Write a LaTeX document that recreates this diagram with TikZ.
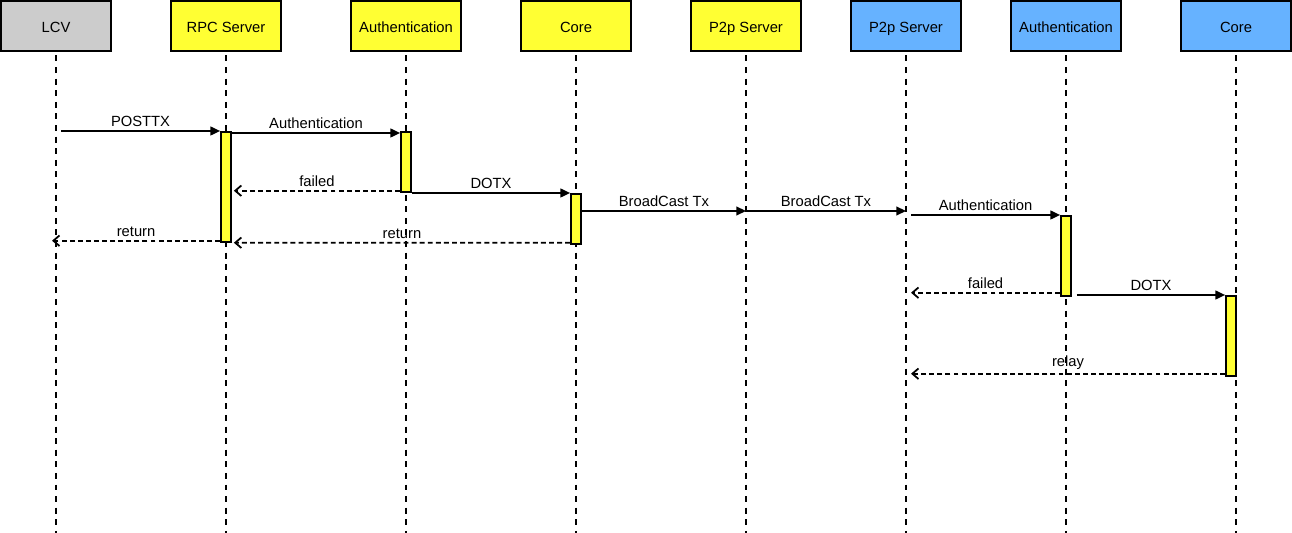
\documentclass[tikz,border=0pt]{standalone}
\usepackage{fontspec}
\setmainfont{Liberation Sans}
\usepackage{tikz}
\usetikzlibrary{arrows.meta,positioning,calc}
\definecolor{LCVGray}{RGB}{204,204,204}
\definecolor{NodeYellow}{RGB}{255,255,51}
\definecolor{NodeBlue}{RGB}{102,178,255}

\begin{document}
\begin{tikzpicture}[x=0.02cm,y=-0.02cm,
  head/.style={draw,line width=1.1pt,minimum width=2.2cm,minimum height=1cm,
               inner sep=0pt,text height=7.2pt,text depth=0pt,
               font=\fontsize{8.4}{10}\selectfont},
  life/.style={line width=1.2pt,dash pattern=on 3.4pt off 3.2pt},
  bar/.style={draw,fill=NodeYellow,line width=1pt,minimum width=0.2cm,
              inner sep=0pt,anchor=north},
  call/.style={line width=0.9pt,-{Triangle[length=5.5pt,width=5pt]}},
  reply/.style={line width=1pt,dash pattern=on 2.8pt off 1.8pt,
                -{Straight Barb[length=3.5pt,width=6pt]}},
  lbl/.style={above,inner sep=1.8pt,font=\fontsize{8.4}{10}\selectfont},
]
\useasboundingbox (0,0) rectangle (1292,533);
\coordinate (bottom) at (0,533);
% Participants
\foreach \x/\name/\txt/\col in {56/lcv/LCV/LCVGray,226/rpc/RPC Server/NodeYellow,
    406/auth/Authentication/NodeYellow,576/core/Core/NodeYellow,
    746/p2pa/P2p Server/NodeYellow,906/p2pb/P2p Server/NodeBlue,
    1066/authb/Authentication/NodeBlue,1236/coreb/Core/NodeBlue}
  \node[head,fill=\col] (\name) at (\x,26) {\txt};
% Lifelines
\foreach \name in {lcv,rpc,auth,core,p2pa,p2pb,authb,coreb}
  \draw[life] ([yshift=-2pt]\name.south) -- (\name.south |- bottom);
% Activation bars
\node[bar,minimum height=2.2cm] (rpcbar) at (226,131) {};
\node[bar,minimum height=1.2cm] (authbar) at (406,131) {};
\node[bar,minimum height=1cm] (corebar) at (576,193) {};
\node[bar,minimum height=1.6cm] (authbbar) at (1066,215) {};
\node[bar,minimum height=1.6cm] (corebbar) at (1231,295) {};
% Node side: POSTTX
\draw[call] ($(lcv.south |- rpcbar.north)+(5,0)$) -- (rpcbar.north west)
  node[lbl,midway]{POSTTX};
\draw[call] ($(rpcbar.north east)+(0,2)$) -- ($(authbar.north west)+(0,2)$)
  node[lbl,midway]{Authentication};
\draw[reply] ($(authbar.south west)+(0,-2)$) -- ($(rpcbar.east |- authbar.south)+(2,-2)$)
  node[lbl,midway]{failed};
\draw[call] (authbar.south east |- corebar.north) -- (corebar.north west)
  node[lbl,midway]{DOTX};
\draw[reply] ($(rpcbar.south west)+(0,-2)$) -- ($(lcv.south |- rpcbar.south)+(-4,-2)$)
  node[lbl,midway]{return};
\draw[reply] ($(corebar.south west)+(0,-2)$) -- ($(rpcbar.south east)+(2,0)$)
  node[lbl,midway]{return};
% Broadcast to peer
\draw[call] ($(corebar.north east)+(0,18)$) -- ($(p2pa.south |- corebar.north)+(0,18)$)
  node[lbl,midway]{BroadCast Tx};
\draw[call] ($(p2pa.south |- corebar.north)+(0,18)$) -- ($(p2pb.south |- corebar.north)+(0,18)$)
  node[lbl,midway]{BroadCast Tx};
% Peer side
\draw[call] ($(p2pb.south |- authbbar.north)+(5,0)$) -- (authbbar.north west)
  node[lbl,midway]{Authentication};
\draw[reply] ($(authbbar.south west)+(0,-4)$) -- ($(p2pb.south |- authbbar.south)+(5,-4)$)
  node[lbl,midway]{failed};
\draw[call] ($(authbbar.south east |- corebbar.north)+(5,0)$) -- (corebbar.north west)
  node[lbl,midway]{DOTX};
\draw[reply] ($(corebbar.south west)+(0,-3)$) -- ($(p2pb.south |- corebbar.south)+(5,-3)$)
  node[lbl,midway]{relay};
\end{tikzpicture}
\end{document}
